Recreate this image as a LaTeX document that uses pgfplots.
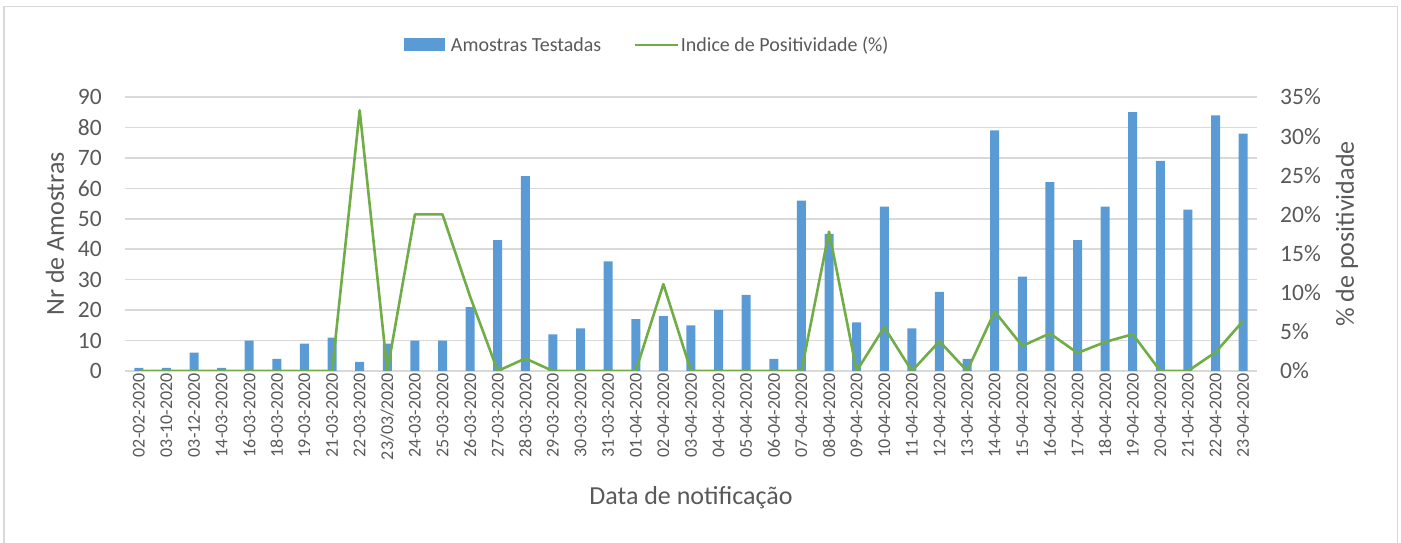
\documentclass[border=0pt]{standalone}
\usepackage{pgfplots}
\pgfplotsset{compat=1.18}
\usepackage{fontspec}
\setmainfont{Carlito}
\definecolor{barblue}{HTML}{5B9BD5}
\definecolor{linegreen}{HTML}{70AD47}
\definecolor{gridgray}{HTML}{D9D9D9}
\definecolor{textgray}{HTML}{595959}
\begin{document}
\begin{tikzpicture}
\path[use as bounding box] (0,0) rectangle (1401pt,543pt);
\draw[gridgray, line width=1.6pt] (4pt,-5pt) -- (4pt,536.5pt) -- (1397.5pt,536.5pt) -- (1397.5pt,-5pt);
\pgfplotsset{
  common/.style={
    scale only axis, width=1132pt, height=274pt,
    at={(125pt,172pt)}, anchor=south west,
    xmin=-0.5, xmax=40.5,
    /pgf/number format/assume math mode=true,
    major tick length=0pt,
    tick style={draw=none},
  }
}
\begin{axis}[common,
  ymin=0, ymax=90, ytick={0,10,...,90},
  axis x line*=bottom, axis y line*=left,
  x axis line style={draw=gridgray, line width=1.5pt, -},
  y axis line style={draw=none},
  ymajorgrids, grid style={gridgray, line width=1.5pt},
  xtick={0,...,40},
  xticklabels={02-02-2020,03-10-2020,03-12-2020,14-03-2020,16-03-2020,18-03-2020,19-03-2020,21-03-2020,22-03-2020,23/03/2020,24-03-2020,25-03-2020,26-03-2020,27-03-2020,28-03-2020,29-03-2020,30-03-2020,31-03-2020,01-04-2020,02-04-2020,03-04-2020,04-04-2020,05-04-2020,06-04-2020,07-04-2020,08-04-2020,09-04-2020,10-04-2020,11-04-2020,12-04-2020,13-04-2020,14-04-2020,15-04-2020,16-04-2020,17-04-2020,18-04-2020,19-04-2020,20-04-2020,21-04-2020,22-04-2020,23-04-2020},
  xticklabel style={rotate=90, anchor=east, inner sep=0pt, font=\fontsize{18}{20}\selectfont, text=textgray},
  xticklabel shift=2pt,
  yticklabel style={anchor=east, inner sep=0pt, font=\fontsize{23.5}{28}\selectfont, text=textgray},
  yticklabel shift=23pt,
  ylabel={Nr de Amostras},
  ylabel style={at={(axis description cs:-0.0618,0.5)}, anchor=center, font=\fontsize{26}{30}\selectfont, text=textgray},
  xlabel={Data de notificação},
  xlabel style={at={(axis description cs:0.5,-0.463)}, anchor=center, font=\fontsize{26}{30}\selectfont, text=textgray},
]
\addplot[ybar, bar width=9pt, fill=barblue, draw=none] coordinates {
(0,1) (1,1) (2,6) (3,1) (4,10) (5,4) (6,9) (7,11) (8,3) (9,9)
(10,10) (11,10) (12,21) (13,43) (14,64) (15,12) (16,14) (17,36) (18,17) (19,18)
(20,15) (21,20) (22,25) (23,4) (24,56) (25,45) (26,16) (27,54) (28,14) (29,26)
(30,4) (31,79) (32,31) (33,62) (34,43) (35,54) (36,85) (37,69) (38,53) (39,84)
(40,78)};
\end{axis}
\begin{axis}[common,
  ymin=0, ymax=35, ytick={0,5,...,35},
  yticklabels={0\%,5\%,10\%,15\%,20\%,25\%,30\%,35\%},
  axis x line=none, axis y line*=right,
  y axis line style={draw=none},
  xtick=\empty,
  yticklabel style={anchor=west, inner sep=0pt, font=\fontsize{23.5}{28}\selectfont, text=textgray},
  yticklabel shift=23pt,
  ylabel={\% de positividade},
  ylabel style={at={(axis description cs:1.0795,0.5)}, anchor=center, rotate=0, font=\fontsize{26}{30}\selectfont, text=textgray},
  legend style={at={(axis description cs:0.4605,1.19)}, anchor=center, draw=none, fill=none,
    font=\fontsize{20}{24}\selectfont, text=textgray, legend columns=2,
    /tikz/every even column/.append style={column sep=30pt}},
  legend cell align=left,
]
\addlegendimage{legend image code/.code={\path[draw=none,fill=none] (-2pt,0pt) -- (45pt,0pt); \fill[barblue,draw=none] (0pt,-6.5pt) rectangle (41pt,6.5pt);}}
\addlegendentry{Amostras Testadas}
\addplot[linegreen, line width=2.6pt, line join=round, mark=none,
  legend image code/.code={\draw[linegreen, line width=2.6pt] (0pt,0pt) -- (43pt,0pt);}] coordinates {
(0,0) (1,0) (2,0) (3,0) (4,0) (5,0) (6,0) (7,0) (8,33.3) (9,0)
(10,20) (11,20) (12,9.5) (13,0) (14,1.6) (15,0) (16,0) (17,0) (18,0) (19,11.1)
(20,0) (21,0) (22,0) (23,0) (24,0) (25,17.8) (26,0) (27,5.6) (28,0) (29,3.8)
(30,0) (31,7.6) (32,3.2) (33,4.8) (34,2.3) (35,3.7) (36,4.7) (37,0) (38,0) (39,2.4)
(40,6.4)};
\addlegendentry{Indice de Positividade (\%)}
\end{axis}
\end{tikzpicture}
\end{document}
